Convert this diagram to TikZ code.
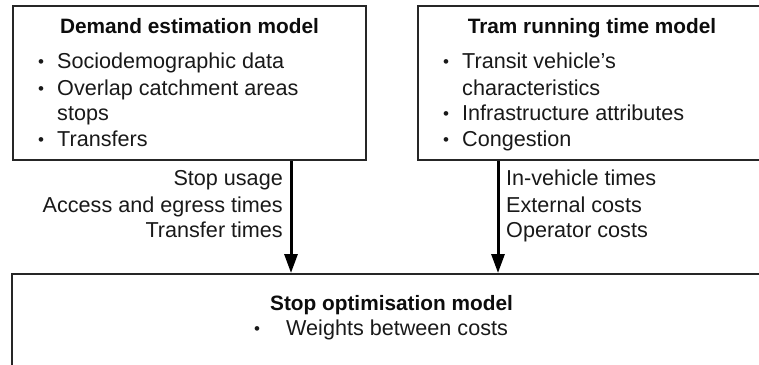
\documentclass[tikz,border=0pt]{standalone}
\usepackage{fontspec}
\setmainfont{Liberation Sans}
\usetikzlibrary{arrows.meta}
\begin{document}
\begin{tikzpicture}[x=1pt,y=-1pt,
  box/.style={draw=black!85, line width=2pt, rectangle, inner sep=0pt},
  txt/.style={inner sep=0pt, text=black!90, font=\fontsize{21.6}{26}\selectfont},
  bul/.style={inner sep=0pt, text=black!90, font=\fontsize{17}{26}\selectfont},
  ttl/.style={inner sep=0pt, text=black!95, font=\fontsize{20.8}{26}\selectfont\bfseries},
  arr/.style={line width=3pt, -{Triangle[length=19pt,width=13pt]}}]
\clip (0,0) rectangle (759,364);
\fill[white] (0,0) rectangle (759,364);
% boxes
\node[box, minimum width=353pt, minimum height=154pt] (dem) at (189.5,83) {};
\node[box, minimum width=348pt, minimum height=154pt] (tram) at (592,83) {};
\node[box, minimum width=759pt, minimum height=140pt] (opt) at (391.5,344) {};
% demand box text
\node[ttl, anchor=base] (demt) at (189.5,33) {Demand estimation model};
\node[bul, anchor=base] (db1) at (41,67) {•};
\node[txt, anchor=base west] (d1) at (57,68) {Sociodemographic data};
\node[bul, anchor=base] (db2) at (41,94) {•};
\node[txt, anchor=base west] (d2) at (57,95) {Overlap catchment areas};
\node[txt, anchor=base west] (d3) at (57,120) {stops};
\node[bul, anchor=base] (db4) at (41,145) {•};
\node[txt, anchor=base west] (d4) at (57,146) {Transfers};
% tram box text
\node[ttl, anchor=base] (tramt) at (592,33) {Tram running time model};
\node[bul, anchor=base] (tb1) at (446,67) {•};
\node[txt, anchor=base west] (t1) at (462,68) {Transit vehicle’s};
\node[txt, anchor=base west] (t2) at (462,95) {characteristics};
\node[bul, anchor=base] (tb3) at (446,119) {•};
\node[txt, anchor=base west] (t3) at (462,120) {Infrastructure attributes};
\node[bul, anchor=base] (tb4) at (446,145) {•};
\node[txt, anchor=base west] (t4) at (462,146) {Congestion};
% bottom box text
\node[ttl, anchor=base] (optt) at (391.5,310) {Stop optimisation model};
\node[bul, anchor=base] (ob1) at (257,334) {•};
\node[txt, anchor=base west] (o1) at (286,335) {Weights between costs};
% arrows
\coordinate (a1) at (291,0);
\coordinate (a2) at (498,0);
\draw[arr] (dem.south -| a1) -- (opt.north -| a1);
\draw[arr] (tram.south -| a2) -- (opt.north -| a2);
% arrow labels
\node[txt, anchor=base east] (l1) at (283,185) {Stop usage};
\node[txt, anchor=base east] (l2) at (283,212) {Access and egress times};
\node[txt, anchor=base east] (l3) at (283,237) {Transfer times};
\node[txt, anchor=base west] (r1) at (506,185) {In-vehicle times};
\node[txt, anchor=base west] (r2) at (506,212) {External costs};
\node[txt, anchor=base west] (r3) at (506,237) {Operator costs};
\end{tikzpicture}
\end{document}
